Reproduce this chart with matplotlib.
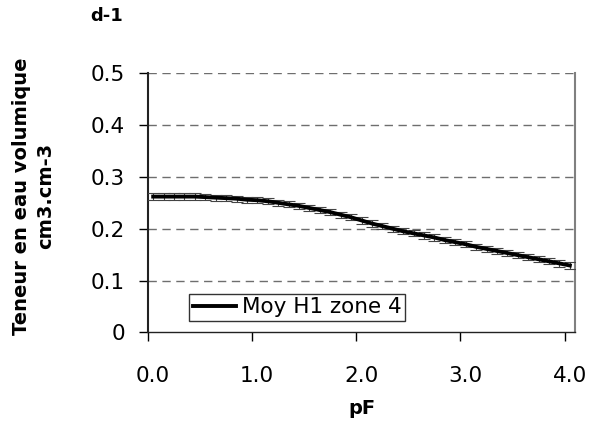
import matplotlib.pyplot as plt
import matplotlib.transforms as mtransforms

plt.rcParams['font.family'] = ['DejaVu Sans']

# pF values and mean water content (cm3.cm-3) with error
pF = [0.05, 0.15, 0.25, 0.35, 0.45, 0.55, 0.65, 0.75, 0.85, 0.95,
      1.05, 1.15, 1.25, 1.35, 1.45, 1.55, 1.65, 1.75, 1.85, 1.95,
      2.05, 2.15, 2.25, 2.35, 2.45, 2.55, 2.65, 2.75, 2.85, 2.95,
      3.05, 3.15, 3.25, 3.35, 3.45, 3.55, 3.65, 3.75, 3.85, 3.95, 4.05]
theta = [0.262, 0.262, 0.262, 0.262, 0.262, 0.261, 0.260, 0.259, 0.258, 0.256,
         0.255, 0.253, 0.250, 0.247, 0.244, 0.240, 0.236, 0.232, 0.227, 0.222,
         0.216, 0.210, 0.205, 0.200, 0.195, 0.191, 0.187, 0.183, 0.178, 0.174,
         0.170, 0.165, 0.161, 0.157, 0.153, 0.149, 0.145, 0.141, 0.137, 0.133, 0.129]
err = [0.006] * len(pF)

xticks = [0.0, 1.0, 2.0, 3.0, 4.0]
yticks = [0, 0.1, 0.2, 0.3, 0.4, 0.5]
ylabels = ['0', '0.1', '0.2', '0.3', '0.4', '0.5']

fig = plt.figure(figsize=(5.91, 4.28), dpi=100)
ax = fig.add_axes([0.2504, 0.2236, 0.7226, 0.6051])

ax.errorbar(pF, theta, yerr=err, fmt='none', elinewidth=0.8,
            capsize=4, capthick=0.8, ecolor='#444444', zorder=3)
ax.plot(pF, theta, color='black', lw=2.8, label='Moy H1 zone 4', zorder=4)

ax.set_xlim(0, 4.1)
ax.set_ylim(0, 0.5)
ax.set_xticks(xticks)
ax.set_xticklabels(['%.1f' % v for v in xticks])
ax.set_yticks(yticks)
ax.set_yticklabels(ylabels)
ax.tick_params(axis='both', direction='out', length=6.5, width=1, labelsize=15.5, color='black')
ax.tick_params(axis='y', pad=10)
ax.tick_params(axis='x', pad=18)

# Excel-style shift of x tick labels
offset = mtransforms.ScaledTranslation(5 / 100, 0, fig.dpi_scale_trans)
for lab in ax.get_xticklabels():
    lab.set_transform(lab.get_transform() + offset)

for y in yticks[1:]:
    ax.axhline(y, color='#6e6e6e', lw=1, ls=(0, (6, 4)), zorder=1)

ax.spines['top'].set_visible(False)
ax.spines['right'].set_color('#808080')
ax.spines['right'].set_linewidth(1.5)
ax.spines['left'].set_color('#222222')
ax.spines['left'].set_linewidth(1.5)
ax.spines['bottom'].set_color('#222222')
ax.spines['bottom'].set_linewidth(1)

ax.set_xlabel('pF', fontsize=14, fontweight='bold', labelpad=9)
ax.set_ylabel('Teneur en eau volumique\ncm3.cm-3', fontsize=14, fontweight='bold',
              linespacing=1.3)
ax.yaxis.set_label_coords(-0.218, 0.527)
fig.text(0.181, 0.963, 'd-1', fontsize=13, fontweight='bold', ha='center', va='center')

leg = ax.legend(loc='lower left', bbox_to_anchor=(0.097, 0.045), fontsize=15.5,
                frameon=True, fancybox=False, edgecolor='black', handlelength=2.0,
                borderpad=0.15, handletextpad=0.3, borderaxespad=0)
leg.get_frame().set_linewidth(1)

fig.savefig('out.png', dpi=100)
